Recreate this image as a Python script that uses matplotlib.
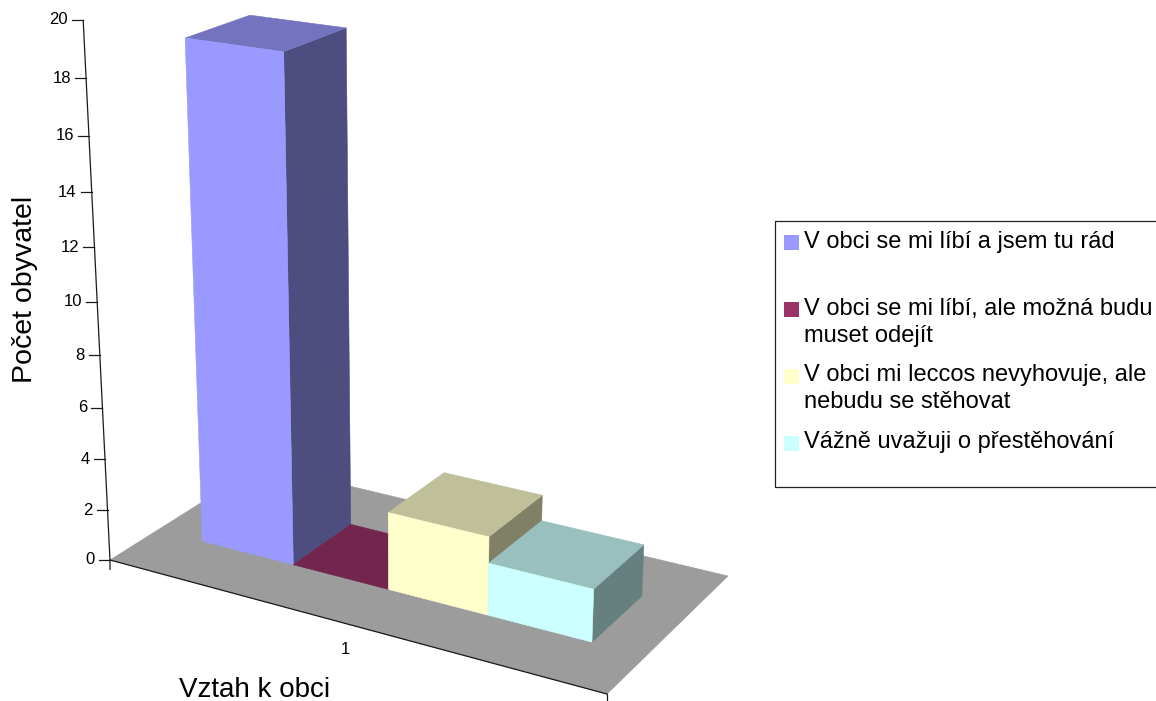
import numpy as np
import matplotlib
matplotlib.use('Agg')
import matplotlib.pyplot as plt
from matplotlib.patches import Rectangle

plt.rcParams['font.family'] = ['Liberation Sans', 'DejaVu Sans']

legend_labels = ['V obci se mi líbí a jsem tu rád',
                 'V obci se mi líbí, ale možná budu\nmuset odejít',
                 'V obci mi leccos nevyhovuje, ale\nnebudu se stěhovat',
                 'Vážně uvažuji o přestěhování']
values = [19, 0, 3, 2]
z_ticks = [0, 2, 4, 6, 8, 10, 12, 14, 16, 18, 20]
category_label = '1'
x_title = 'Vztah k obci'
y_title = 'Počet obyvatel'

front_colors = ['#9999FF', '#993366', '#FFFFCC', '#CCFFFF']
top_colors = ['#7373BF', '#73264D', '#BFBF99', '#99BFBF']
side_colors = ['#4D4D80', '#4D1A33', '#808066', '#668080']
floor_color = '#9C9C9C'
line_color = '#1A1A1A'

# camera: floor corners in pixels and the point where verticals meet
floor_px = [(110, 560), (607, 694), (728, 576), (261, 465)]
vanish_x, vanish_y = 405, 6500
z_step = -0.004167


def make_camera():
    (x0, y0), (x1, y1), (x2, y2), (x3, y3) = floor_px
    dx1, dx2, sx = x1 - x2, x3 - x2, x0 - x1 + x2 - x3
    dy1, dy2, sy = y1 - y2, y3 - y2, y0 - y1 + y2 - y3
    den = dx1 * dy2 - dx2 * dy1
    g = (sx * dy2 - dx2 * sy) / den
    h = (dx1 * sy - sx * dy1) / den
    return np.array([
        [x1 - x0 + g * x1, x3 - x0 + h * x3, z_step * vanish_x, x0],
        [y1 - y0 + g * y1, y3 - y0 + h * y3, z_step * vanish_y, y0],
        [g, h, z_step, 1.0],
    ])


camera = make_camera()


def project(u, v, z=0):
    p = camera @ np.array([u, v, z, 1.0])
    return p[0] / p[2], p[1] / p[2]


def face(ax, corners, color):
    pts = [project(*c) for c in corners]
    ax.fill([p[0] for p in pts], [p[1] for p in pts], facecolor=color,
            edgecolor=color, linewidth=0.4)


fig = plt.figure(figsize=(11.56, 7.01), dpi=100)
ax = fig.add_axes([0, 0, 1, 1])
ax.set_xlim(0, 1156)
ax.set_ylim(701, 0)
ax.axis('off')

# floor
face(ax, [(0, 0), (1, 0), (1, 1), (0, 1)], floor_color)

# bars, left to right so the nearer ones cover the others
gap = 0.1
bar_w = 0.2
v0, v1 = 0.3, 0.7
for i, val in enumerate(values):
    u0 = gap + i * bar_w
    u1 = u0 + bar_w
    if val > 0:
        face(ax, [(u1, v0, 0), (u1, v1, 0), (u1, v1, val), (u1, v0, val)], side_colors[i])
    face(ax, [(u0, v0, val), (u1, v0, val), (u1, v1, val), (u0, v1, val)], top_colors[i])
    if val > 0:
        face(ax, [(u0, v0, 0), (u1, v0, 0), (u1, v0, val), (u0, v0, val)], front_colors[i])

# value axis
bx, by = project(0, 0, z_ticks[0])
tx, ty = project(0, 0, z_ticks[-1])
ax.plot([tx, bx, bx], [ty, by, by + 10], color=line_color, lw=0.9, solid_capstyle='butt')
for t in z_ticks:
    px, py = project(0, 0, t)
    ax.plot([px - 11, px], [py, py], color=line_color, lw=0.9)
    ax.text(px - 15, py, str(t), ha='right', va='center', fontsize=12)

# category axis
ex, ey = project(1, 0)
ax.plot([bx, ex], [by, ey], color=line_color, lw=0.9)
ax.plot([ex, ex], [ey, ey + 9], color=line_color, lw=0.9)
ax.text(345, 650, category_label, ha='center', va='center', fontsize=12)

ax.text(255, 690, x_title, ha='center', va='center', fontsize=20)
ax.text(25, 289, y_title, ha='center', va='center', rotation=90, fontsize=20.5)

# legend
ax.add_patch(Rectangle((775, 221), 400, 266, facecolor='white', edgecolor='#222222',
                       lw=0.9, clip_on=True))
swatch_y = [235, 302, 369, 436]
text_y = [240, 307, 373, 440]
for label, color, sy, ty_ in zip(legend_labels, front_colors, swatch_y, text_y):
    ax.add_patch(Rectangle((784, sy), 15, 15, facecolor=color, edgecolor='none'))
    ax.text(804, ty_ - 9, label, ha='left', va='top', fontsize=17, linespacing=1.3)

fig.savefig('out.png', dpi=100)
